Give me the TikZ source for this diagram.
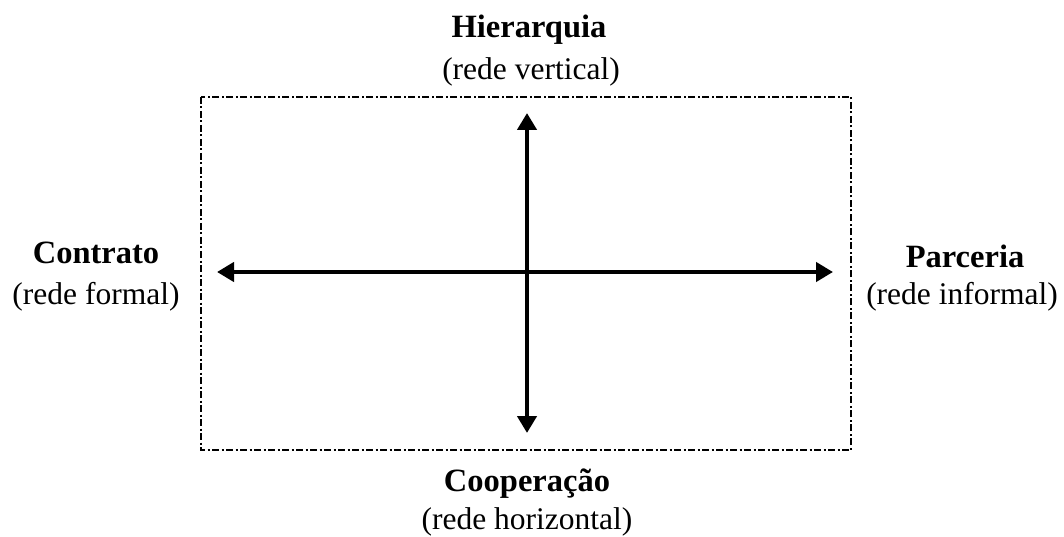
\documentclass[tikz,border=0pt]{standalone}
\usepackage{fontspec}
\setmainfont{Liberation Serif}
\usetikzlibrary{arrows.meta}
\begin{document}
\begin{tikzpicture}[x=1pt,y=1pt,
  lbl/.style={font=\fontsize{31.5}{35}\selectfont, inner sep=0pt, align=center},
  ttl/.style={font=\fontsize{32.5}{36}\selectfont\bfseries, inner sep=0pt},
  axis/.style={line width=4.5pt, {Triangle[length=17pt,width=19pt]}-{Triangle[length=17pt,width=19pt]}},
  frame/.style={line width=1.6pt, dash pattern=on 7pt off 2.5pt on 2pt off 2.5pt}]
\useasboundingbox (0,0) rectangle (1064,536);
\draw[frame] (201,439) rectangle (851,86);
\coordinate (top) at (527,423);
\coordinate (bot) at (527,103);
\coordinate (lft) at (217,264);
\coordinate (rgt) at (833,264);
\draw[axis] (bot) -- (top);
\draw[axis] (lft) -- (rgt);
\node[ttl] (h1) at (529,506) {Hierarquia};
\node[lbl] (h2) at (531,464) {(rede vertical)};
\node[ttl] (c1) at (96,283) {Contrato};
\node[lbl] (c2) at (96,239) {(rede formal)};
\node[ttl] (p1) at (965,280) {Parceria};
\node[lbl] (p2) at (962,239) {(rede informal)};
\node[ttl] (k1) at (527,52) {Cooperação};
\node[lbl] (k2) at (527,14) {(rede horizontal)};
\end{tikzpicture}
\end{document}
